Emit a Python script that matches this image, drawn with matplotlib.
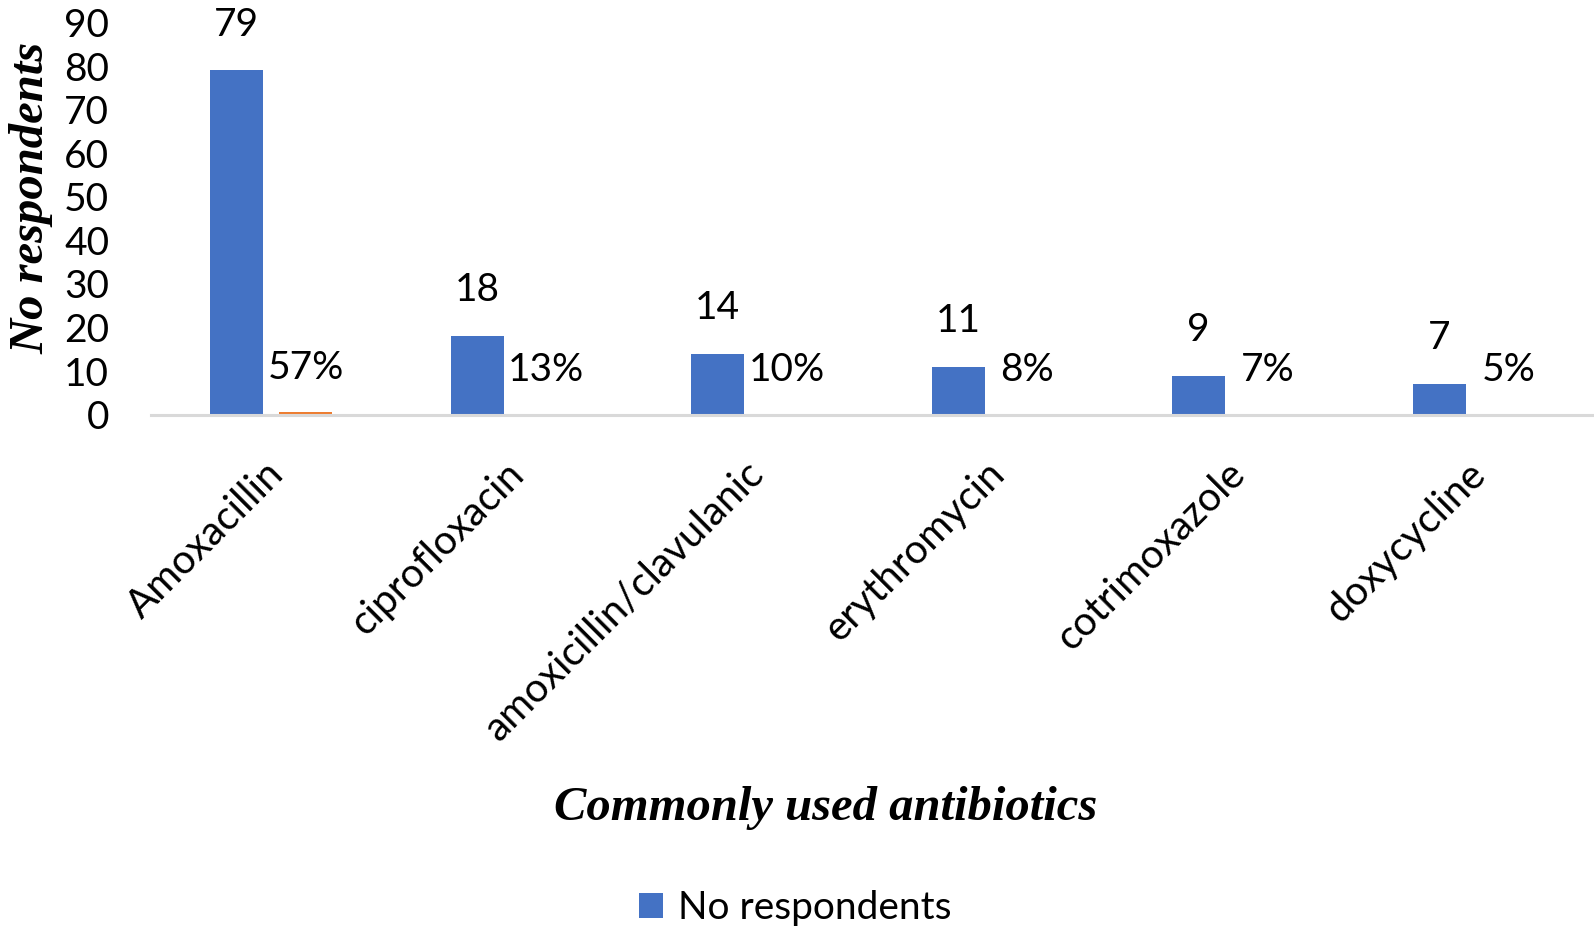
import numpy as np
import matplotlib.pyplot as plt
from matplotlib.transforms import ScaledTranslation

plt.rcParams["font.family"] = ["Lato", "DejaVu Sans"]

antibiotics = ["Amoxacillin", "ciprofloxacin", "amoxicillin/clavulanic",
               "erythromycin", "cotrimoxazole", "doxycycline"]
respondents = [79, 18, 14, 11, 9, 7]
shares = [0.57, 0.13, 0.10, 0.08, 0.07, 0.05]

blue = "#4472C4"
orange = "#ED7D31"

fig = plt.figure(figsize=(15.94, 9.35), dpi=100)
ax = fig.add_axes([0.0947, 0.5564, 0.9053, 0.4196])

x = np.arange(len(antibiotics))
w = 0.22
gap = 0.0675
b1 = ax.bar(x - (w + gap) / 2, respondents, w, color=blue, label="No respondents")
b2 = ax.bar(x + (w + gap) / 2, shares, w, color=orange, label="_share")

fs = 28
for rect, v in zip(b1, respondents):
    ax.annotate(f"{v}", (rect.get_x() + rect.get_width() / 2, rect.get_height()),
                xytext=(0, 33), textcoords="offset points",
                ha="center", va="center", fontsize=fs)
for rect, v in zip(b2, shares):
    ax.annotate(f"{v:.0%}", (rect.get_x() + rect.get_width() / 2, rect.get_height()),
                xytext=(0, 32), textcoords="offset points",
                ha="center", va="center", fontsize=fs)

ax.set_xlim(-0.5, len(antibiotics) - 0.5)
ax.set_ylim(0, 90)
ax.set_yticks(np.arange(0, 91, 10))
ax.tick_params(axis="y", length=0, labelsize=fs, pad=30)
ax.tick_params(axis="x", length=0, labelsize=29, pad=24)
ax.set_xticks(x)
ax.set_xticklabels(antibiotics, rotation=45, ha="right", va="top",
                   rotation_mode="anchor")
shift = ScaledTranslation(-7 / 100, -7 / 100, fig.dpi_scale_trans)
for lbl in ax.get_xticklabels():
    lbl.set_transform(lbl.get_transform() + shift)

for s in ["top", "right", "left"]:
    ax.spines[s].set_visible(False)
ax.spines["bottom"].set_color("#D9D9D9")
ax.spines["bottom"].set_linewidth(2.2)

fig.text(0.020, 0.788, "No respondents", rotation=90, ha="center", va="center",
         family="Liberation Serif", style="italic", weight="bold", fontsize=35)
fig.text(0.518, 0.136, "Commonly used antibiotics", ha="center", va="center",
         family="Liberation Serif", style="italic", weight="bold", fontsize=35)

fig.legend(handles=[b1], labels=["No respondents"], loc="center",
           bbox_to_anchor=(0.499, 0.029), frameon=False, fontsize=fs,
           handlelength=0.6, handleheight=0.6, handletextpad=0.4)

plt.savefig("out.png", dpi=100)
